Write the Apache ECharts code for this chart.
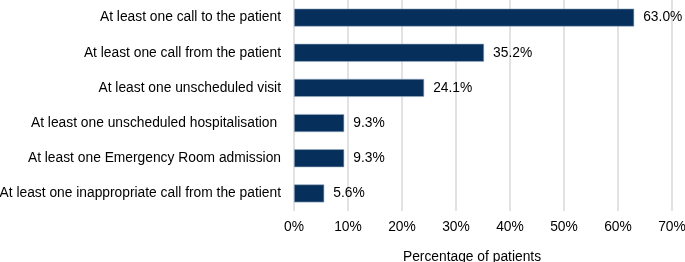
<!DOCTYPE html>
<html><head><meta charset="utf-8">
<script src="https://cdn.jsdelivr.net/npm/echarts@6/dist/echarts.min.js"></script>
<style>html,body{margin:0;padding:0;background:#fff}#c{width:685px;height:262px}</style>
</head><body><div id="c"></div>
<script>
var categories = [
  "At least one call to the patient",
  "At least one call from the patient",
  "At least one unscheduled visit",
  "At least one unscheduled hospitalisation ",
  "At least one Emergency Room admission",
  "At least one inappropriate call from the patient"
];
var values = [63.0, 35.2, 24.1, 9.3, 9.3, 5.6];
var xTicks = [0, 10, 20, 30, 40, 50, 60, 70];
var axisTitle = "Percentage of patients";

var FS = 13.8;
var chart = echarts.init(document.getElementById('c'));
chart.setOption({
  animation: false,
  grid: { left: 294, right: 13, top: 0, bottom: 51, containLabel: false, outerBoundsMode: 'none' },
  xAxis: {
    type: 'value', min: xTicks[0], max: xTicks[xTicks.length - 1], interval: 10,
    name: axisTitle, nameLocation: 'middle', nameGap: 39,
    nameTextStyle: { fontFamily: 'Liberation Sans', fontSize: FS, color: '#000', padding: [0, 22, 0, 0] },
    axisLine: { show: false }, axisTick: { show: false },
    axisLabel: { formatter: '{value}%', fontFamily: 'Liberation Sans', fontSize: FS, color: '#000', margin: 9 },
    splitLine: { show: true, lineStyle: { color: '#d9d9d9', width: 1.5 } }
  },
  yAxis: {
    type: 'category', data: categories, inverse: true,
    axisLine: { show: false }, axisTick: { show: false },
    axisLabel: { fontFamily: 'Liberation Sans', fontSize: FS, color: '#000', margin: 13 }
  },
  series: [{
    type: 'bar', data: values, barWidth: 18,
    itemStyle: { color: '#062f5c', borderColor: '#9fb3c8', borderWidth: 0.6 },
    label: { show: true, position: 'right', distance: 9, formatter: function(p){ return p.value.toFixed(1) + '%'; },
      fontFamily: 'Liberation Sans', fontSize: FS, color: '#000' }
  }]
});
</script></body></html>
